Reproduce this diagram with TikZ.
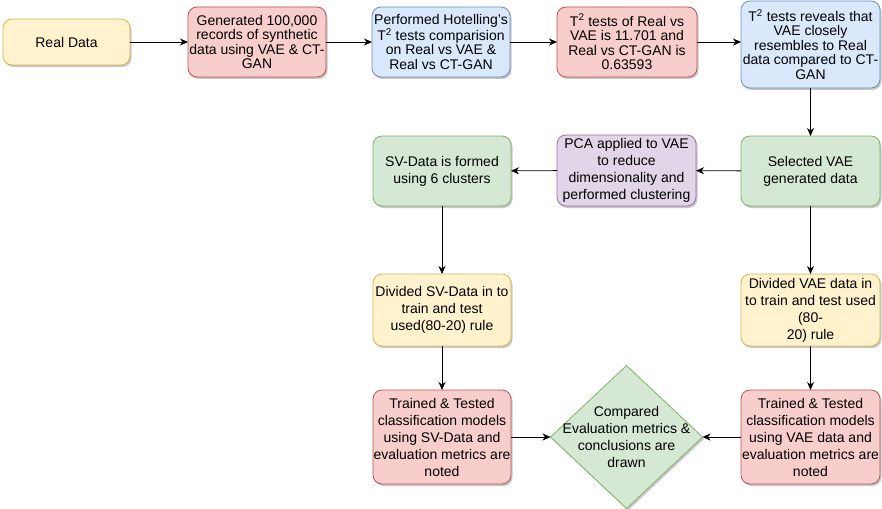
\documentclass[tikz,border=0pt]{standalone}
\usepackage{fontspec}
\setmainfont{Liberation Sans}
\usetikzlibrary{shapes.geometric,arrows.meta,shadows}
\definecolor{yfill}{HTML}{FFF2CC}\definecolor{ydraw}{HTML}{D6B656}
\definecolor{rfill}{HTML}{F8CECC}\definecolor{rdraw}{HTML}{B85450}
\definecolor{bfill}{HTML}{DAE8FC}\definecolor{bdraw}{HTML}{6C8EBF}
\definecolor{gfill}{HTML}{D5E8D4}\definecolor{gdraw}{HTML}{82B366}
\definecolor{pfill}{HTML}{E1D5E7}\definecolor{pdraw}{HTML}{9673A6}
\tikzset{
  shad/.style={drop shadow={shadow xshift=1.5pt,shadow yshift=-2pt,opacity=0.22,fill=black}},
  box/.style={draw, rounded corners=9pt, align=center, inner sep=0pt, outer sep=0pt,
    line width=0.8pt, shad, minimum width=138pt, minimum height=70pt,
    font=\fontsize{14}{17}\selectfont},
  toprow/.style={font=\fontsize{14}{14.5}\selectfont},
  yel/.style={box, fill=yfill, draw=ydraw},
  red/.style={box, fill=rfill, draw=rdraw},
  blu/.style={box, fill=bfill, draw=bdraw},
  grn/.style={box, fill=gfill, draw=gdraw},
  pur/.style={box, fill=pfill, draw=pdraw},
  dia/.style={diamond, draw=gdraw, fill=gfill, line width=0.8pt, shad,
    inner sep=0pt, outer sep=0pt, minimum width=152pt, minimum height=143pt},
  diatext/.style={align=center, inner sep=0pt, font=\fontsize{14}{17}\selectfont},
  arr/.style={line width=0.9pt, -{Stealth[length=8pt,width=7pt,inset=2.5pt]}}
}
\begin{document}
\begin{tikzpicture}[x=1pt,y=-1pt]
\useasboundingbox (0,0) rectangle (882,508);
\node[yel, minimum width=127pt, minimum height=46pt] (real) at (66.5,42) {Real Data};
\node[red, toprow] (gen) at (257,42) {Generated 100,000\\records of synthetic\\data using VAE \& CT-\\GAN};
\node[blu, toprow] (perf) at (441,42) {Performed Hotelling's\\T\textsuperscript{2} tests comparision\\on Real vs VAE \&\\Real vs CT-GAN};
\node[red, toprow, minimum width=140pt] (t2) at (627,42) {T\textsuperscript{2} tests of Real vs\\VAE is 11.701 and\\Real vs CT-GAN is\\0.63593};
\node[blu, toprow, minimum width=139pt, minimum height=87pt] (rev) at (810.5,44.5) {T\textsuperscript{2} tests reveals that\\VAE closely\\resembles to Real\\data compared to CT-\\GAN};
\node[grn, minimum width=139pt] (sel) at (810.5,171) {Selected VAE\\generated data};
\node[pur, minimum width=139pt, minimum height=71pt] (pca) at (626.5,170.5) {PCA applied to VAE\\to reduce\\dimensionality and\\performed clustering};
\node[grn] (sv) at (442,171) {SV-Data is formed\\using 6 clusters};
\node[yel, minimum height=72pt] (divsv) at (442,310) {Divided SV-Data in to\\train and test\\used(80-20) rule};
\node[yel, minimum width=139pt, minimum height=72pt] (divvae) at (810.5,310) {Divided VAE data in\\to train and test used\\(80-\\20) rule};
\node[red, minimum height=94pt] (trsv) at (442,437) {Trained \& Tested\\classification models\\using SV-Data and\\evaluation metrics are\\noted};
\node[red, minimum width=139pt, minimum height=94pt] (trvae) at (810.5,437) {Trained \& Tested\\classification models\\using VAE data and\\evaluation metrics are\\noted};
\node[dia] (cmp) at (626.5,437) {};
\node[diatext] (cmptext) at (cmp.center) {Compared\\Evaluation metrics \&\\conclusions are\\drawn};
\draw[arr] (real) -- (gen);
\draw[arr] (gen) -- (perf);
\draw[arr] (perf) -- (t2);
\draw[arr] (t2.east) -- (rev.west |- t2.east);
\draw[arr] (rev) -- (sel);
\draw[arr] (sel) -- (pca);
\draw[arr] (pca) -- (sv);
\draw[arr] (sv) -- (divsv);
\draw[arr] (sel) -- (divvae);
\draw[arr] (divsv) -- (trsv);
\draw[arr] (divvae) -- (trvae);
\draw[arr] (trsv) -- (cmp);
\draw[arr] (trvae) -- (cmp);
\end{tikzpicture}
\end{document}
